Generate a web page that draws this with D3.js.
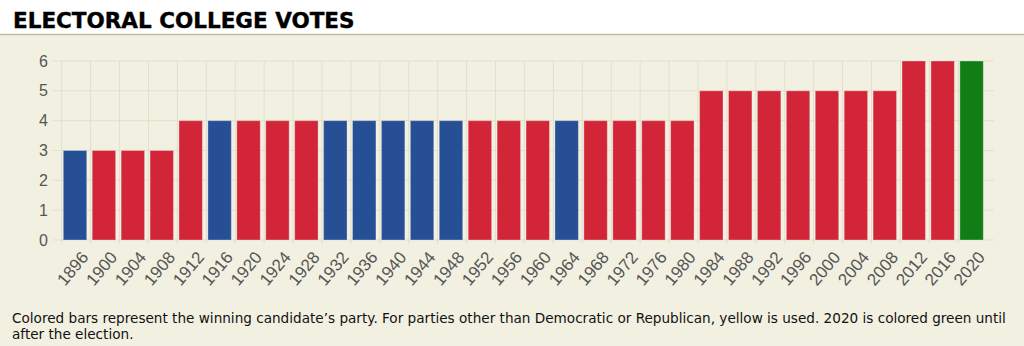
<!DOCTYPE html>
<html lang="en">
<head>
    <meta charset="UTF-8">
    <title>Electoral college votes</title>
    <script src="https://d3js.org/d3.v7.min.js"></script>
    <style>
        body { margin: 0; background: #fff; }
    </style>
</head>
<body>
    <div id="chart"></div>
    <script>
        // election years, votes and the party that carried the state
        const years = [1896, 1900, 1904, 1908, 1912, 1916, 1920, 1924, 1928, 1932, 1936, 1940,
            1944, 1948, 1952, 1956, 1960, 1964, 1968, 1972, 1976, 1980, 1984, 1988,
            1992, 1996, 2000, 2004, 2008, 2012, 2016, 2020];
        const votes = [3, 3, 3, 3, 4, 4, 4, 4, 4, 4, 4, 4,
            4, 4, 4, 4, 4, 4, 4, 4, 4, 4, 5, 5,
            5, 5, 5, 5, 5, 6, 6, 6];
        const parties = ["D", "R", "R", "R", "R", "D", "R", "R", "R", "D", "D", "D",
            "D", "D", "R", "R", "R", "D", "R", "R", "R", "R", "R", "R",
            "R", "R", "R", "R", "R", "R", "R", "TBD"];
        const yTicks = [0, 1, 2, 3, 4, 5, 6];

        const partyColor = { D: "#264f96", R: "#d22638", O: "#f2c418", TBD: "#107e14" };

        const data = years.map((y, i) => ({ year: y, votes: votes[i], party: parties[i] }));

        const W = 1024, H = 346;
        const svg = d3.select("#chart").append("svg")
            .attr("width", W).attr("height", H)
            .style("display", "block");

        // header strip and chart panel
        svg.append("rect").attr("x", 0).attr("y", 35).attr("width", W).attr("height", H - 35)
            .attr("fill", "#f2f0e1");
        svg.append("line").attr("x1", 0).attr("x2", W).attr("y1", 34.5).attr("y2", 34.5)
            .attr("stroke", "#c4bda5").attr("stroke-width", 1.5);
        svg.append("text")
            .attr("x", 13).attr("y", 28)
            .attr("font-family", "DejaVu Sans, Verdana, sans-serif")
            .attr("font-weight", "bold")
            .attr("font-size", 21.5)
            .attr("fill", "#000")
            .attr("stroke", "#000").attr("stroke-width", 0.4)
            .text("ELECTORAL COLLEGE VOTES");

        const plot = { left: 61.7, right: 987.2, edge: 994, top: 61, bottom: 240 };

        const x = d3.scaleBand()
            .domain(years)
            .range([plot.left, plot.right])
            .padding(0);
        const y = d3.scaleLinear()
            .domain([0, 6])
            .range([plot.bottom, plot.top]);

        const gridColor = "#e2dfcd";

        // horizontal grid with y labels
        const gy = svg.append("g");
        gy.selectAll("line").data(yTicks).join("line")
            .attr("x1", 53).attr("x2", plot.edge)
            .attr("y1", d => y(d)).attr("y2", d => y(d))
            .attr("stroke", gridColor).attr("stroke-width", 1);
        gy.selectAll("text").data(yTicks).join("text")
            .attr("x", 48).attr("y", d => y(d))
            .attr("dy", "0.35em")
            .attr("text-anchor", "end")
            .attr("font-family", "Liberation Sans, Arial, sans-serif")
            .attr("font-size", 16)
            .attr("fill", "#555")
            .text(d => d);

        // vertical grid at band starts, running a little below the baseline
        const gx = svg.append("g");
        gx.selectAll("line").data(years).join("line")
            .attr("x1", d => x(d)).attr("x2", d => x(d))
            .attr("y1", plot.top).attr("y2", plot.bottom + 4)
            .attr("stroke", gridColor).attr("stroke-width", 1);
        gx.selectAll("text").data(years).join("text")
            .attr("transform", d => `translate(${x(d) + x.bandwidth() / 2 + 4}, ${plot.bottom + 10}) rotate(-50)`)
            .attr("text-anchor", "end")
            .attr("dy", "0.7em")
            .attr("font-family", "Liberation Sans, Arial, sans-serif")
            .attr("font-size", 17)
            .attr("fill", "#555")
            .text(d => d);

        // bars
        const step = x.step();
        svg.append("g").selectAll("rect").data(data).join("rect")
            .attr("x", d => x(d.year) + step * 0.055)
            .attr("y", d => y(d.votes))
            .attr("width", step * 0.81)
            .attr("height", d => y(0) - y(d.votes))
            .attr("fill", d => partyColor[d.party])
            .attr("stroke", "rgba(255,255,255,0.3)")
            .attr("stroke-width", 1);

        // note under the chart
        const note = svg.append("text")
            .attr("font-family", "DejaVu Sans, Tahoma, sans-serif")
            .attr("font-size", 13.6)
            .attr("fill", "#111");
        note.append("tspan").attr("x", 12).attr("y", 323)
            .text("Colored bars represent the winning candidate\u2019s party. For parties other than Democratic or Republican, yellow is used. 2020 is colored green until");
        note.append("tspan").attr("x", 12).attr("y", 339)
            .text("after the election.");
    </script>
</body>
</html>
